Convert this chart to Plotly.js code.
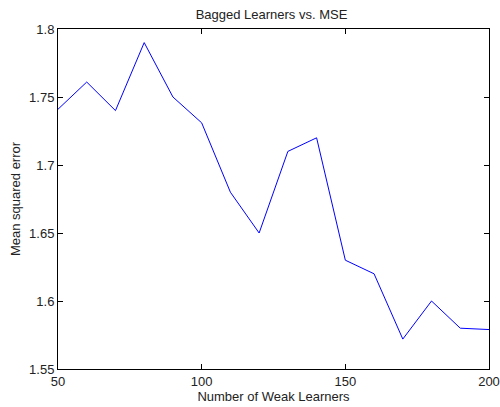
<!DOCTYPE html>
<html>
<head>
<meta charset="utf-8">
<script src="https://cdn.plot.ly/plotly-3.0.1.min.js"></script>
<style>html,body{margin:0;padding:0;background:#fff}#chart{width:500px;height:407px}</style>
</head>
<body>
<div id="chart"></div>
<script>
const numLearners = [50, 60, 70, 80, 90, 100, 110, 120, 130, 140, 150, 160, 170, 180, 190, 200];
const mse = [1.741, 1.761, 1.740, 1.790, 1.750, 1.731, 1.680, 1.650, 1.710, 1.720, 1.630, 1.620, 1.572, 1.600, 1.580, 1.579];
const xTicks = [50, 100, 150, 200];
const yTicks = [1.55, 1.6, 1.65, 1.7, 1.75, 1.8];
const yTickText = ['1.55', '1.6', '1.65', '1.7', '1.75', '1.8'];

const fontFam = 'Liberation Sans, Arial, sans-serif';
const axisCommon = {
  showgrid: false, zeroline: false, showline: true, mirror: 'ticks',
  linecolor: '#000', linewidth: 1, ticks: 'inside', ticklen: 5, tickcolor: '#000',
  tickfont: {family: fontFam, size: 13, color: '#222'}
};
Plotly.newPlot('chart', [{
  x: numLearners, y: mse, type: 'scatter', mode: 'lines',
  line: {color: '#0000ff', width: 1}
}], {
  width: 500, height: 407,
  margin: {l: 58, r: 11, t: 29, b: 38},
  paper_bgcolor: '#fff', plot_bgcolor: '#fff',
  showlegend: false,
  title: {text: 'Bagged Learners vs. MSE', font: {family: fontFam, size: 13, color: '#222'}, x: 0.543, xanchor: 'center', y: 0.965, yanchor: 'middle'},
  xaxis: Object.assign({}, axisCommon, {range: [50, 200], tickvals: xTicks, ticktext: xTicks.map(String),
    title: {text: 'Number of Weak Learners', font: {family: fontFam, size: 13, color: '#222'}, standoff: 3}}),
  yaxis: Object.assign({}, axisCommon, {range: [1.55, 1.8], tickvals: yTicks, ticktext: yTickText,
    title: {text: 'Mean squared error', font: {family: fontFam, size: 13, color: '#222'}, standoff: 5}})
}, {displayModeBar: false, staticPlot: true});
</script>
</body>
</html>
